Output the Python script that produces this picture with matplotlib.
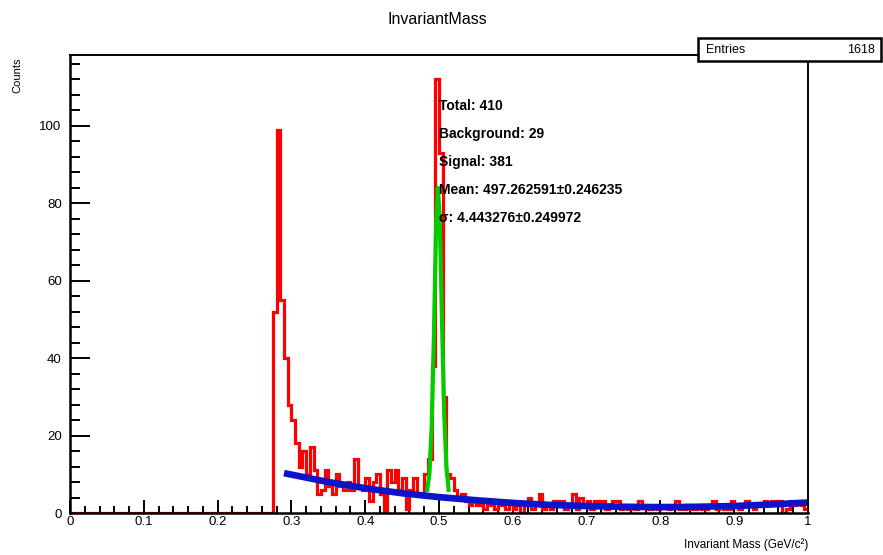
import numpy as np
import matplotlib
matplotlib.use('Agg')
import matplotlib.pyplot as plt
from matplotlib.ticker import MultipleLocator
from matplotlib.patches import Rectangle

FONT = ['Liberation Sans', 'DejaVu Sans']

# histogram: 200 bins on [0, 1], nothing below 0.275
n_bins = 200
first_bin = 55
counts_tail = [
    52, 99, 55, 40, 28, 24, 18, 12, 16, 10,   # 0.275 - 0.320
    17, 11, 5, 6, 11, 7, 5, 10, 7, 6,         # 0.325 - 0.370
    8, 6, 14, 7, 6, 9, 3, 8, 10, 5,           # 0.375 - 0.420
    0, 11, 8, 11, 6, 9, 1, 6, 9, 5,           # 0.425 - 0.470
    5, 10, 14, 38, 112, 93, 30, 10, 9, 6,     # 0.475 - 0.520
    4, 5, 3, 2, 3, 2, 3, 1, 2, 3,             # 0.525 - 0.570
    1, 2, 2, 1, 3, 1, 2, 0, 2, 4,             # 0.575 - 0.620
    1, 2, 5, 1, 2, 1, 3, 3, 3, 1,             # 0.625 - 0.670
    2, 5, 1, 4, 2, 3, 1, 3, 2, 3,             # 0.675 - 0.720
    1, 2, 3, 3, 1, 2, 1, 2, 1, 3,             # 0.725 - 0.770
    2, 1, 1, 2, 1, 2, 2, 1, 2, 3,             # 0.775 - 0.820
    1, 1, 2, 1, 1, 2, 1, 1, 2, 3,             # 0.825 - 0.870
    1, 2, 1, 1, 3, 2, 1, 2, 3, 2,             # 0.875 - 0.920
    1, 2, 2, 3, 2, 3, 2, 3, 0, 1,             # 0.925 - 0.970
    3, 2, 3, 2, 1,                            # 0.975 - 0.995
]
counts = [0] * first_bin + counts_tail

# background fit (blue)
bkg_x = [0.29, 0.35, 0.40, 0.45, 0.50, 0.55, 0.60, 0.65, 0.70, 0.75, 0.80, 0.85, 0.90, 0.95, 1.00]
bkg_y = [10.3, 8.0, 6.4, 5.1, 4.1, 3.3, 2.6, 2.1, 1.8, 1.6, 1.5, 1.6, 1.8, 2.2, 2.7]

# signal + background fit (green)
sig_x = [0.484, 0.487, 0.490, 0.493, 0.496, 0.4985, 0.501, 0.504, 0.507, 0.510, 0.513]
sig_y = [6, 10, 22, 45, 74, 84, 76, 50, 26, 12, 6]

x_ticks = [0, 0.1, 0.2, 0.3, 0.4, 0.5, 0.6, 0.7, 0.8, 0.9, 1.0]
x_tick_labels = ['0', '0.1', '0.2', '0.3', '0.4', '0.5', '0.6', '0.7', '0.8', '0.9', '1']
y_ticks = [0, 20, 40, 60, 80, 100]

stat_lines = ['Total: 410', 'Background: 29', 'Signal: 381',
              'Mean: 497.262591\u00b10.246235', '\u03c3: 4.443276\u00b10.249972']
entries = 1618

fig = plt.figure(figsize=(8.83, 5.55), dpi=100)
ax = fig.add_axes([70 / 883, 42 / 555, 738 / 883, 458 / 555])

edges = np.linspace(0, 1, n_bins + 1)
ax.stairs(counts, edges, color='#ff0000', lw=2.3, zorder=2)
ax.plot(sig_x, sig_y, color='#00cc00', lw=3.0, zorder=3)
ax.plot(bkg_x, bkg_y, color='#0a14c8', lw=4.8, zorder=4, solid_capstyle='butt')

ax.set_xlim(0, 1)
ax.set_ylim(0, 118.3)

ax.set_xticks(x_ticks, x_tick_labels)
ax.set_yticks(y_ticks)
ax.xaxis.set_minor_locator(MultipleLocator(0.02))
ax.yaxis.set_minor_locator(MultipleLocator(4))
ax.tick_params(axis='x', which='major', direction='in', length=9.5, width=1.4, pad=2,
               top=False, labelsize=9.5)
ax.tick_params(axis='x', which='minor', direction='in', length=5, width=1.4, top=False)
ax.tick_params(axis='y', which='major', direction='in', length=14.5, width=1.4, pad=6,
               right=False, labelsize=9.5)
ax.tick_params(axis='y', which='minor', direction='in', length=7.5, width=1.4, right=False)
for lab in ax.get_xticklabels() + ax.get_yticklabels():
    lab.set_family(FONT)

for side in ['left', 'bottom']:
    ax.spines[side].set_linewidth(1.8)
for side in ['top', 'right']:
    ax.spines[side].set_linewidth(1.4)
for s in ax.spines.values():
    s.set_zorder(5)

# fit results
for i, line in enumerate(stat_lines):
    ax.text(0.5, 105 - i * 7.2, line, fontsize=10, fontweight='bold', family=FONT,
            va='center', ha='left', zorder=6)

fig.text(437 / 883, 1 - 20 / 555, 'InvariantMass', ha='center', va='center',
         fontsize=11.5, family=FONT)
fig.text(808 / 883, 1 - 545 / 555, 'Invariant Mass (GeV/c\u00b2)', ha='right', va='center',
         fontsize=8.5, family=FONT)
fig.text(17 / 883, 1 - 57 / 555, 'Counts', rotation=90, ha='center', va='top',
         fontsize=8, family=FONT)

# stats box
fig.patches.append(Rectangle((698 / 883, 1 - 61 / 555), 183 / 883, 23 / 555,
                             transform=fig.transFigure, facecolor='white',
                             edgecolor='black', lw=1.8, zorder=10))
fig.text(706 / 883, 1 - 50 / 555, 'Entries', ha='left', va='center', fontsize=9,
         family=FONT, zorder=11)
fig.text(875 / 883, 1 - 50 / 555, str(entries), ha='right', va='center', fontsize=9,
         family=FONT, zorder=11)

plt.savefig('out.png', dpi=100)
